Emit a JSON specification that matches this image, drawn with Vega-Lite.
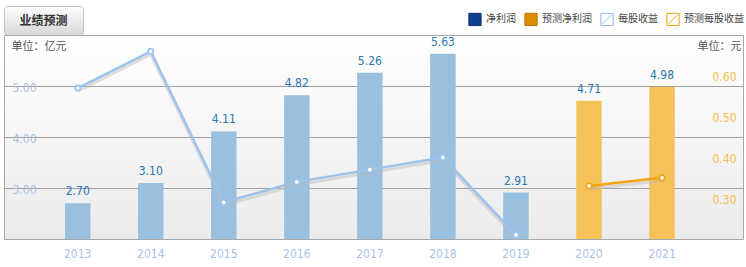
{
  "$schema": "https://vega.github.io/schema/vega-lite/v6.json",
  "padding": {"left": 3, "top": 5, "right": 4, "bottom": 0},
  "bounds": "flush",
  "spacing": 0,
  "datasets": {
    "profit": [
      {"年份": "2013", "净利润": 2.70, "系列": "净利润"},
      {"年份": "2014", "净利润": 3.10, "系列": "净利润"},
      {"年份": "2015", "净利润": 4.11, "系列": "净利润"},
      {"年份": "2016", "净利润": 4.82, "系列": "净利润"},
      {"年份": "2017", "净利润": 5.26, "系列": "净利润"},
      {"年份": "2018", "净利润": 5.63, "系列": "净利润"},
      {"年份": "2019", "净利润": 2.91, "系列": "净利润"},
      {"年份": "2020", "净利润": 4.71, "系列": "预测净利润"},
      {"年份": "2021", "净利润": 4.98, "系列": "预测净利润"}
    ],
    "eps": [
      {"年份": "2013", "每股收益": 0.57, "系列": "每股收益"},
      {"年份": "2014", "每股收益": 0.66, "系列": "每股收益"},
      {"年份": "2015", "每股收益": 0.29, "系列": "每股收益"},
      {"年份": "2016", "每股收益": 0.34, "系列": "每股收益"},
      {"年份": "2017", "每股收益": 0.37, "系列": "每股收益"},
      {"年份": "2018", "每股收益": 0.40, "系列": "每股收益"},
      {"年份": "2019", "每股收益": 0.21, "系列": "每股收益"},
      {"年份": "2020", "每股收益": 0.33, "系列": "预测每股收益"},
      {"年份": "2021", "每股收益": 0.35, "系列": "预测每股收益"}
    ],
    "header": [{"t": "业绩预测"}]
  },
  "vconcat": [
    {
      "width": 79,
      "height": 29,
      "data": {"name": "header"},
      "mark": {"type": "text", "font": "Noto Sans CJK SC", "fontSize": 12, "fontWeight": "bold", "color": "#333333", "baseline": "middle", "align": "center"},
      "encoding": {"text": {"field": "t", "type": "nominal"}},
      "view": {
        "fill": {"gradient": "linear", "x1": 0, "y1": 0, "x2": 0, "y2": 1, "stops": [{"offset": 0, "color": "#fdfdfd"}, {"offset": 1, "color": "#d8d8d8"}]},
        "stroke": "#c4c4c4",
        "cornerRadius": 3
      }
    },
    {
      "width": 739,
      "height": 204,
      "view": {
        "fill": {"gradient": "linear", "x1": 0, "y1": 0, "x2": 0, "y2": 1, "stops": [{"offset": 0, "color": "#ffffff"}, {"offset": 1, "color": "#ebebeb"}]},
        "stroke": "#a8a8a8"
      },
      "layer": [
        {
          "data": {"name": "profit"},
          "encoding": {
            "x": {
              "field": "年份", "type": "ordinal",
              "scale": {"paddingInner": 0.651, "paddingOuter": 0.8845, "align": 0.472},
              "axis": {"title": null, "labelAngle": 0, "domain": false, "ticks": false, "tickSize": 0, "labelPadding": 9, "labelFont": "Liberation Sans Narrow, DejaVu Sans Condensed, sans-serif", "labelFontSize": 12, "labelColor": "#a8c2e6"}
            },
            "y": {
              "field": "净利润", "type": "quantitative",
              "scale": {"domain": [2, 6], "zero": false, "nice": false, "clamp": true},
              "axis": {
                "orient": "left", "values": [3, 4, 5], "format": ".2f", "domain": false, "ticks": false, "tickSize": 0,
                "labelAlign": "left", "labelBaseline": "middle", "labelPadding": -8, "labelOffset": 1,
                "labelFont": "Liberation Sans Narrow, DejaVu Sans Condensed, sans-serif", "labelFontSize": 12, "labelColor": "#a8c0e0",
                "grid": true, "gridColor": "#a0a0a0", "gridWidth": 1,
                "title": "单位：亿元", "titleAngle": 0, "titleAlign": "left", "titleBaseline": "middle", "titleX": 7, "titleY": 11,
                "titleFont": "Noto Sans CJK SC", "titleFontSize": 11, "titleFontWeight": "normal", "titleColor": "#555555"
              }
            }
          },
          "layer": [
            {
              "mark": {"type": "bar"},
              "encoding": {
                "color": {
                  "field": "系列", "type": "nominal",
                  "scale": {"domain": ["每股收益", "预测每股收益", "净利润", "预测净利润"], "range": ["#9dc3ea", "#f5a310", "#99c0de", "#f5c259"]},
                  "legend": null
                }
              }
            },
            {
              "mark": {"type": "text", "baseline": "bottom", "dy": -5, "font": "Liberation Sans Narrow, DejaVu Sans Condensed, sans-serif", "fontSize": 12, "color": "#2b78b0"},
              "encoding": {"text": {"field": "净利润", "type": "quantitative", "format": ".2f"}}
            }
          ]
        },
        {
          "data": {"name": "eps"},
          "encoding": {
            "x": {"field": "年份", "type": "ordinal"},
            "y": {
              "field": "每股收益", "type": "quantitative",
              "scale": {"domain": [0.2, 0.7], "zero": false, "nice": false},
              "axis": {
                "orient": "right", "values": [0.3, 0.4, 0.5, 0.6], "format": ".2f", "domain": false, "ticks": false, "tickSize": 0,
                "labelAlign": "right", "labelBaseline": "middle", "labelPadding": -7, "labelOffset": 1,
                "labelFont": "Liberation Sans Narrow, DejaVu Sans Condensed, sans-serif", "labelFontSize": 12, "labelColor": "#f7bd4b",
                "grid": false,
                "title": "单位：元", "titleAngle": 0, "titleAlign": "right", "titleBaseline": "middle", "titleX": -2, "titleY": 11,
                "titleFont": "Noto Sans CJK SC", "titleFontSize": 11, "titleFontWeight": "normal", "titleColor": "#555555"
              }
            }
          },
          "layer": [
            {
              "mark": {"type": "line", "stroke": "#b8b8b8", "strokeWidth": 3, "opacity": 0.45, "yOffset": 3},
              "encoding": {"detail": {"field": "系列", "type": "nominal"}}
            },
            {
              "mark": {"type": "line", "strokeWidth": 2.5},
              "encoding": {"color": {"field": "系列", "type": "nominal", "legend": null}}
            },
            {
              "mark": {"type": "point", "shape": "circle", "filled": false, "fill": "#ffffff", "size": 28, "strokeWidth": 1.6, "opacity": 1},
              "encoding": {"color": {"field": "系列", "type": "nominal", "legend": null}}
            },
            {
              "mark": {"type": "point", "filled": true, "strokeWidth": 1, "opacity": 0},
              "encoding": {
                "fill": {
                  "field": "系列", "type": "nominal",
                  "scale": {"domain": ["净利润", "预测净利润", "每股收益", "预测每股收益"], "range": ["#11408f", "#dc8d00", "#ffffff", "#ffffff"]},
                  "legend": {
                    "title": null, "orient": "none", "legendX": 464, "legendY": 6, "direction": "horizontal", "columns": 4,
                    "labelFont": "Noto Sans CJK SC", "labelFontSize": 10, "labelColor": "#444444", "symbolSize": 150, "symbolStrokeWidth": 1,
                    "labelOffset": 4, "columnPadding": 6, "padding": 0, "symbolOpacity": 1
                  }
                },
                "stroke": {
                  "field": "系列", "type": "nominal",
                  "scale": {"domain": ["净利润", "预测净利润", "每股收益", "预测每股收益"], "range": ["#0a2f70", "#b87400", "#8db6e6", "#f2a000"]},
                  "legend": {
                    "title": null, "orient": "none", "legendX": 464, "legendY": 6, "direction": "horizontal", "columns": 4,
                    "labelFont": "Noto Sans CJK SC", "labelFontSize": 10, "labelColor": "#444444", "symbolSize": 150, "symbolStrokeWidth": 1,
                    "labelOffset": 4, "columnPadding": 6, "padding": 0, "symbolOpacity": 1
                  }
                },
                "shape": {
                  "field": "系列", "type": "nominal",
                  "scale": {"domain": ["净利润", "预测净利润", "每股收益", "预测每股收益"], "range": ["square", "square", "M-1,-1H1V1H-1ZM-0.75,0.75L0.75,-0.75", "M-1,-1H1V1H-1ZM-0.75,0.75L0.75,-0.75"]},
                  "legend": {
                    "title": null, "orient": "none", "legendX": 464, "legendY": 6, "direction": "horizontal", "columns": 4,
                    "labelFont": "Noto Sans CJK SC", "labelFontSize": 10, "labelColor": "#444444", "symbolSize": 150, "symbolStrokeWidth": 1,
                    "labelOffset": 4, "columnPadding": 6, "padding": 0, "symbolOpacity": 1
                  }
                }
              }
            }
          ]
        }
      ],
      "resolve": {"scale": {"y": "independent"}}
    }
  ]
}
